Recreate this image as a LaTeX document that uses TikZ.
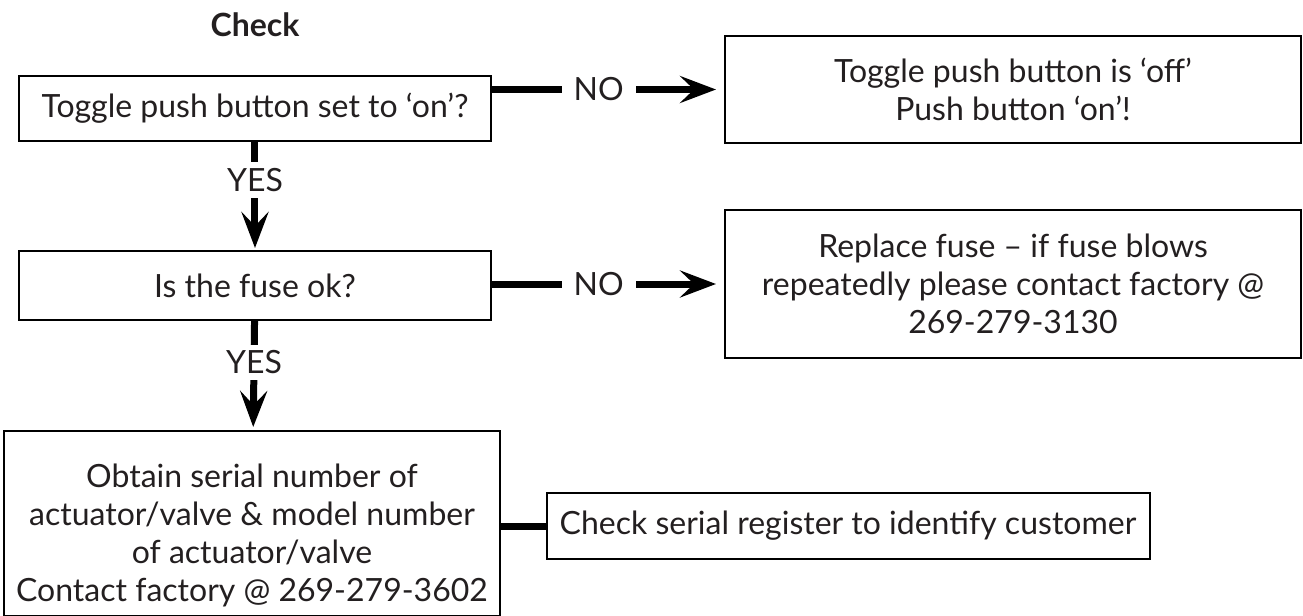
\documentclass[tikz,border=0pt]{standalone}
\usepackage{fontspec}
\setmainfont{Lato}
\usetikzlibrary{shapes.geometric, arrows.meta}
\definecolor{ink}{HTML}{231F20}
\tikzstyle{heading} = [font=\fontsize{16pt}{19pt}\selectfont\bfseries, text=ink]
\tikzstyle{question} = [rectangle, minimum width=236pt, minimum height=32.5pt, text centered, draw=black, line width=1pt, text=ink]
\tikzstyle{action} = [rectangle, minimum width=288pt, minimum height=53.5pt, align=center, draw=black, line width=1pt, text=ink]
\tikzstyle{contact} = [rectangle, minimum width=247.5pt, minimum height=92.5pt, align=center, text height=81pt, draw=black, line width=1pt, text=ink]
\tikzstyle{process} = [rectangle, minimum width=301.5pt, minimum height=33pt, text centered, draw=black, line width=1pt, text=ink]
\tikzstyle{gap} = [fill=white, inner xsep=6pt, inner ysep=3pt, text=ink]
\tikzstyle{arrow} = [line width=3.5pt,-{Stealth[length=18pt,width=13.5pt,inset=7pt]}]
\tikzstyle{link} = [line width=3.5pt]

\begin{document}
\begin{tikzpicture}[node distance=88.5pt, font=\fontsize{16pt}{19pt}\selectfont]
\useasboundingbox (-127.5pt,-253.75pt) rectangle (524pt,54.25pt);
\node (btn) [question] {Toggle push button set to ‘on’?};
\node (title) [heading, above of=btn, yshift=-46.75pt] {Check};
\node (fuse) [question, below of=btn, minimum height=34.5pt] {Is the fuse ok?};
\node (serial) [contact, below of=fuse, xshift=-1.5pt, yshift=-30.5pt] {Obtain serial number of\\actuator/valve \& model number\\of actuator/valve\\Contact factory @ 269-279-3602};
\node (btnoff) [action, right of=btn, xshift=290.5pt, yshift=9.5pt] {Toggle push button is ‘off’\\Push button ‘on’!};
\node (fusefix) [action, right of=fuse, xshift=290.5pt, yshift=0.75pt, minimum height=74pt] {Replace fuse – if fuse blows\\repeatedly please contact factory @\\269-279-3130};
\node (register) [process, right of=serial, xshift=209.5pt, yshift=-1.25pt] {Check serial register to identify customer};
\draw [arrow, shorten >=4pt] (btn.east |- btnoff.west) -- node[gap, pos=0.46] {NO} (btnoff.west);
\draw [arrow, shorten >=4pt] (fuse.east |- fusefix.west) -- node[gap, pos=0.46] {NO} (fusefix.west);
\draw [arrow, shorten >=1pt] (btn) -- node[gap, pos=0.35] {YES} (fuse);
\draw [arrow, shorten >=1.5pt] (fuse) -- node[gap, pos=0.38] {YES} (serial);
\draw [link] (register.west -| serial.east) -- (register.west);
\end{tikzpicture}
\end{document}
